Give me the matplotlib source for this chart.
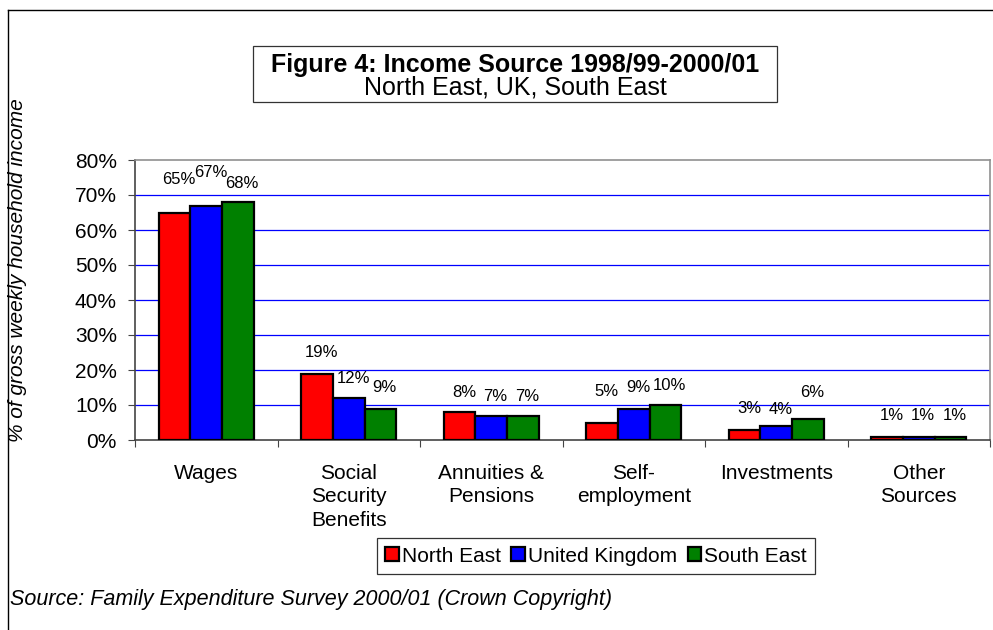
import matplotlib.pyplot as plt
from matplotlib.patches import Rectangle
from matplotlib.lines import Line2D
import numpy as np

plt.rcParams['font.family'] = ['Liberation Sans', 'DejaVu Sans']

# income sources and shares (%) for each region
categories = ["Wages", "Social\nSecurity\nBenefits", "Annuities &\nPensions",
              "Self-\nemployment", "Investments", "Other\nSources"]
regions = ["North East", "United Kingdom", "South East"]
north_east = [65, 19, 8, 5, 3, 1]
united_kingdom = [67, 12, 7, 9, 4, 1]
south_east = [68, 9, 7, 10, 6, 1]
y_ticks = [0, 10, 20, 30, 40, 50, 60, 70, 80]

series = [north_east, united_kingdom, south_east]
colours = ["#ff0000", "#0000ff", "#008000"]

# how far each value label sits above its bar (in % units)
lift = [[9.3, 5.9, 5.7, 9.0, 5.9, 5.9],
        [9.3, 5.7, 5.3, 5.9, 4.6, 5.9],
        [5.4, 5.9, 5.3, 5.7, 7.7, 5.9]]

fig = plt.figure(figsize=(9.93, 6.3), dpi=100)
ax = fig.add_axes([135/993, 1-440/630, (990-135)/993, 280/630])

x = np.arange(len(categories))
w = 0.222
for i, (vals, col) in enumerate(zip(series, colours)):
    pos = x + (i - 1) * w
    ax.bar(pos, vals, width=w, color=col, edgecolor="black", linewidth=1.6,
           label=regions[i], zorder=3)
    for p, v, d in zip(pos, vals, lift[i]):
        ax.text(p + 0.03, v + d, f"{v}%", ha="center", va="center", fontsize=12)

ax.set_xlim(-0.5, len(categories) - 0.5)
ax.set_ylim(0, 80)
ax.set_yticks(y_ticks)
ax.set_yticklabels([f"{t}%" for t in y_ticks], fontsize=15)
for t in y_ticks[1:-1]:
    ax.axhline(t, color="#0000ff", linewidth=0.9, zorder=1)

# category boundaries get the tick marks, names go in the middle
ax.set_xticks(np.arange(-0.5, len(categories)))
ax.set_xticklabels([])
ax.set_xticks(x, minor=True)
ax.set_xticklabels(categories, minor=True, fontsize=15, linespacing=1.3, va="top")
ax.tick_params(axis="x", which="major", length=5, color="#444444")
ax.tick_params(axis="x", which="minor", length=0, pad=17)
ax.tick_params(axis="y", length=5, color="#444444", pad=8)

for s in ["left", "bottom"]:
    ax.spines[s].set_color("#444444")
    ax.spines[s].set_linewidth(1.2)
for s in ["top", "right"]:
    ax.spines[s].set_color("#909090")
    ax.spines[s].set_linewidth(1.2)

fig.text(18/993, 1-270/630, "% of gross weekly household income", rotation=90,
         ha="center", va="center", fontsize=15, style="italic")

# title box
fig.patches.append(Rectangle((253/993, 1-102/630), 524/993, 56/630,
                             transform=fig.transFigure, fill=False,
                             edgecolor="#333333", linewidth=0.9))
fig.text(515/993, 1-65/630, "Figure 4: Income Source 1998/99-2000/01",
         ha="center", va="center", fontsize=18, fontweight="bold")
fig.text(515/993, 1-88/630, "North East, UK, South East",
         ha="center", va="center", fontsize=18)

leg = fig.legend(loc="center", bbox_to_anchor=(596/993, 1-556/630), ncol=3,
                 fontsize=15, frameon=True, fancybox=False, handlelength=0.65,
                 handleheight=0.65, handletextpad=0.15, columnspacing=0.5,
                 borderpad=0.4, borderaxespad=0)
leg.get_frame().set_edgecolor("black")
leg.get_frame().set_linewidth(0.9)

fig.text(10/993, 1-600/630,
         "Source: Family Expenditure Survey 2000/01 (Crown Copyright)",
         ha="left", va="center", fontsize=15.5, style="italic")

# outer chart frame
fig.lines.append(Line2D([8/993, 1], [1-10/630, 1-10/630], transform=fig.transFigure,
                        color="black", linewidth=1))
fig.lines.append(Line2D([8/993, 8/993], [0, 1-10/630], transform=fig.transFigure,
                        color="black", linewidth=1))

fig.savefig("out.png", dpi=100)
